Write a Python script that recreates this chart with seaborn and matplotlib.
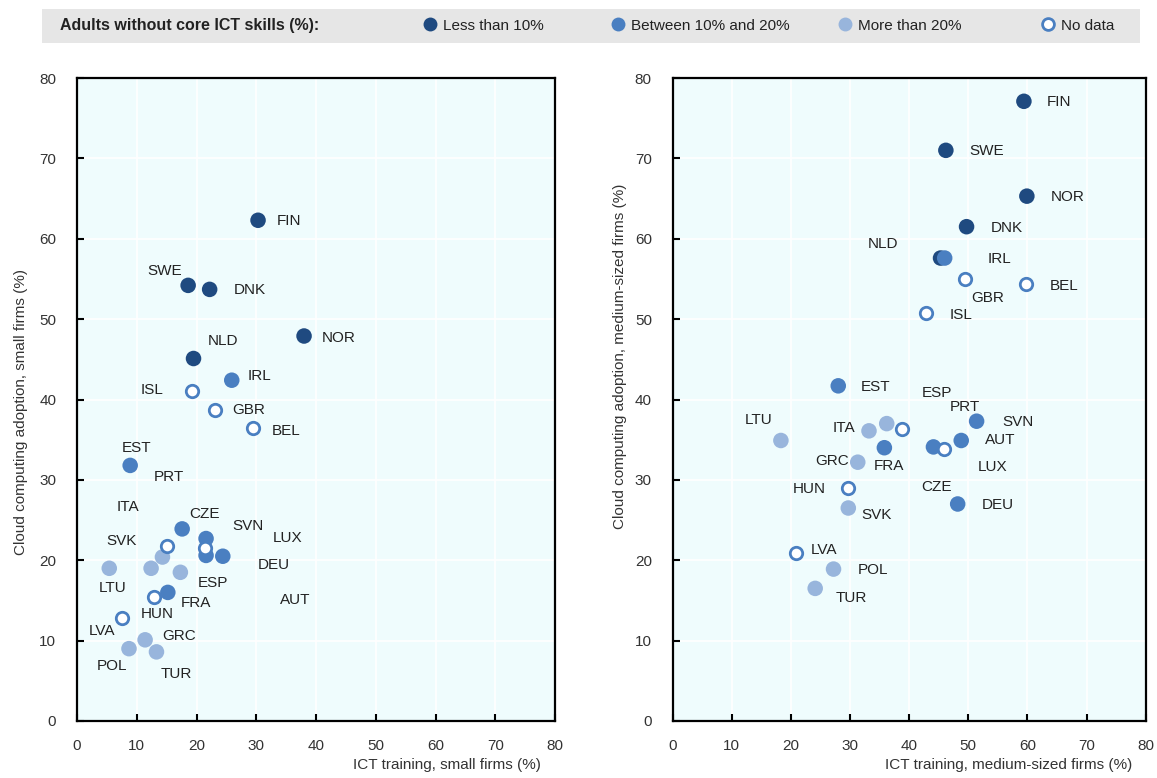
import matplotlib
matplotlib.use("Agg")
import matplotlib.pyplot as plt
from matplotlib import font_manager
from matplotlib.lines import Line2D
from matplotlib.patches import Rectangle
import seaborn as sns
import pandas as pd

# ---------------- data ----------------
countries = ["FIN", "SWE", "DNK", "NOR", "NLD", "IRL", "ISL", "GBR", "BEL", "EST",
             "PRT", "ITA", "CZE", "SVN", "LUX", "SVK", "DEU", "ESP", "LTU", "AUT",
             "FRA", "HUN", "LVA", "GRC", "POL", "TUR"]
skills_group = ["Less than 10%", "Less than 10%", "Less than 10%", "Less than 10%", "Less than 10%",
                "Between 10% and 20%", "No data", "No data", "No data", "Between 10% and 20%",
                "No data", "More than 20%", "Between 10% and 20%", "Between 10% and 20%", "No data",
                "More than 20%", "Between 10% and 20%", "More than 20%", "More than 20%",
                "Between 10% and 20%", "Between 10% and 20%", "No data", "No data",
                "More than 20%", "More than 20%", "More than 20%"]
training_small = [30.3, 18.6, 22.2, 38.0, 19.5, 25.9, 19.3, 23.1, 29.5, 8.9,
                  15.0, 14.3, 17.6, 21.6, 21.4, 12.4, 21.6, 17.3, 5.4, 24.4,
                  15.2, 12.9, 7.5, 11.4, 8.7, 13.3]
cloud_small = [62.3, 54.2, 53.7, 47.9, 45.1, 42.4, 41.0, 38.7, 36.4, 31.8,
               21.8, 20.4, 23.9, 22.7, 21.5, 19.0, 20.6, 18.5, 19.0, 20.5,
               16.0, 15.4, 12.8, 10.1, 9.0, 8.6]
training_medium = [59.4, 46.2, 49.7, 59.9, 45.3, 46.0, 42.8, 49.4, 59.7, 28.0,
                   38.7, 33.2, 44.1, 51.4, 45.9, 29.7, 48.2, 36.2, 18.3, 48.8,
                   35.8, 29.6, 20.9, 31.3, 27.2, 24.1]
cloud_medium = [77.1, 71.0, 61.5, 65.3, 57.6, 57.6, 50.7, 55.0, 54.4, 41.7,
                36.3, 36.1, 34.1, 37.3, 33.9, 26.5, 27.0, 37.0, 34.9, 34.9,
                34.0, 29.0, 20.9, 32.2, 18.9, 16.5]

groups = ["Less than 10%", "Between 10% and 20%", "More than 20%", "No data"]
legend_title = "Adults without core ICT skills (%):"
ticks = [0, 10, 20, 30, 40, 50, 60, 70, 80]

# label offsets (pixels, x right / y up) -- layout only
off_small = {"FIN": (31, -1), "SWE": (-23, 14), "DNK": (40, -1), "NOR": (35, -2),
             "NLD": (29, 18), "IRL": (28, 4), "ISL": (-40, 1), "GBR": (34, 0),
             "BEL": (33, -3), "EST": (6, 17), "PRT": (2, 69), "ITA": (-35, 50),
             "CZE": (22, 15), "SVN": (42, 13), "LUX": (83, 10), "SVK": (-30, 27),
             "DEU": (68, -10), "ESP": (33, -11), "LTU": (3, -20), "AUT": (72, -44),
             "FRA": (28, -11), "HUN": (3, -17), "LVA": (-20, -13), "GRC": (34, 4),
             "POL": (-17, -17), "TUR": (20, -22)}
off_medium = {"FIN": (35, -1), "SWE": (41, -1), "NOR": (41, -1), "DNK": (40, -1),
              "NLD": (-58, 14), "IRL": (55, -1), "GBR": (23, -19), "BEL": (38, -2),
              "ISL": (35, -2), "EST": (37, -1), "ESP": (50, 31), "PRT": (63, 22),
              "LTU": (-22, 20), "ITA": (-25, 3), "SVN": (41, -1), "AUT": (39, 0),
              "LUX": (48, -18), "GRC": (-26, 1), "FRA": (5, -18), "CZE": (3, -40),
              "HUN": (-38, -1), "DEU": (40, -1), "SVK": (28, -7), "LVA": (28, 3),
              "POL": (39, -1), "TUR": (36, -10)}

df = pd.DataFrame({"country": countries, "group": skills_group,
                   "ts": training_small, "cs": cloud_small,
                   "tm": training_medium, "cm": cloud_medium})
df["order"] = df["group"].map({g: i for i, g in enumerate(groups)})
df = df.sort_values("order", kind="stable")

# ---------------- style ----------------
sns.set_theme(style="white")
avail = {f.name for f in font_manager.fontManager.ttflist}
if "Liberation Sans Narrow" in avail:
    FAM = ["Liberation Sans Narrow", "DejaVu Sans"]
    FS = 12.5
else:
    FAM = ["Liberation Sans", "DejaVu Sans"]
    FS = 11
plt.rcParams["font.family"] = FAM

palette = {"Less than 10%": "#1f4a80", "Between 10% and 20%": "#4a7fc1",
           "More than 20%": "#98b5dc", "No data": "#ffffff"}
edge_open = "#4a7fc1"
bg = "#effcfd"
txt = "#222222"

W, H = 1157, 778
fig = plt.figure(figsize=(W / 100, H / 100), dpi=100)

def frac_x(px):
    return px / W

def frac_y(py):
    return 1 - py / H

ax_l = fig.add_axes([frac_x(77), frac_y(721), (555 - 77) / W, (721 - 78) / H])
ax_r = fig.add_axes([frac_x(672.7), frac_y(721), (1145.7 - 672.7) / W, (721 - 78) / H])

panels = [(ax_l, "ts", "cs", off_small, "ICT training, small firms (%)",
           "Cloud computing adoption, small firms (%)", 0.481, -0.103),
          (ax_r, "tm", "cm", off_medium, "ICT training, medium-sized firms (%)",
           "Cloud computing adoption, medium-sized firms (%)", 0.567, -0.096)]

for ax, xc, yc, offs, xl, yl, ylpos, ylx in panels:
    ax.set_facecolor(bg)
    filled = df[df["group"] != "No data"]
    empty = df[df["group"] == "No data"]
    sns.scatterplot(data=filled, x=xc, y=yc, hue="group", palette=palette,
                    s=125, edgecolor="none", linewidth=0, legend=False, ax=ax, zorder=3)
    sns.scatterplot(data=empty, x=xc, y=yc, color="white", s=80,
                    edgecolor=edge_open, linewidth=2.0, legend=False, ax=ax, zorder=4)
    for _, r in df.iterrows():
        dx, dy = offs[r["country"]]
        ax.annotate(r["country"], (r[xc], r[yc]), xytext=(dx, dy),
                    textcoords="offset pixels", ha="center", va="center",
                    fontsize=FS, color=txt, zorder=5)
    ax.set_xlim(0, 80)
    ax.set_ylim(0, 80)
    ax.set_xticks(ticks)
    ax.set_yticks(ticks)
    ax.grid(True, color="white", linewidth=1.2, zorder=0)
    ax.set_axisbelow(True)
    for sp in ax.spines.values():
        sp.set_visible(True)
        sp.set_color("black")
        sp.set_linewidth(1.6)
    ax.tick_params(axis="both", direction="in", length=5, width=1.5, color="black",
                   labelsize=FS, labelcolor="#333333", bottom=True, left=True)
    ax.tick_params(axis="y", pad=15)
    ax.tick_params(axis="x", pad=13)
    ax.set_xlabel(xl, fontsize=FS, color="#333333", ha="right")
    ax.xaxis.set_label_coords(0.971, -0.057)
    ax.set_ylabel(yl, fontsize=FS, color="#333333")
    ax.yaxis.set_label_coords(ylx, ylpos)

# ---------------- legend bar ----------------
fig.patches.append(Rectangle((frac_x(42), frac_y(43)), (1140 - 42) / W, 34 / H,
                             transform=fig.transFigure, facecolor="#e6e6e6",
                             edgecolor="none", zorder=0))
fig.text(frac_x(60), frac_y(25.5), legend_title, fontsize=FS + 0.5, fontweight="bold",
         color=txt, ha="left", va="center")
marker_px = [430, 618, 845, 1048]
hl = 1.0
for g, mx in zip(groups, marker_px):
    if g == "No data":
        h = Line2D([], [], linestyle="none", marker="o", markersize=8.5,
                   markerfacecolor="white", markeredgecolor=edge_open,
                   markeredgewidth=2.0, label=g)
    else:
        h = Line2D([], [], linestyle="none", marker="o", markersize=10,
                   markerfacecolor=palette[g], markeredgecolor="none", label=g)
    anchor_px = mx - hl * FS * 100 / 72 / 2
    fig.legend(handles=[h], loc="center left",
               bbox_to_anchor=(frac_x(anchor_px), frac_y(25.5)),
               frameon=False, fontsize=FS, handlelength=hl, handletextpad=0.35,
               borderpad=0, borderaxespad=0, labelcolor=txt)

fig.savefig("out.png", dpi=100, facecolor="white")
